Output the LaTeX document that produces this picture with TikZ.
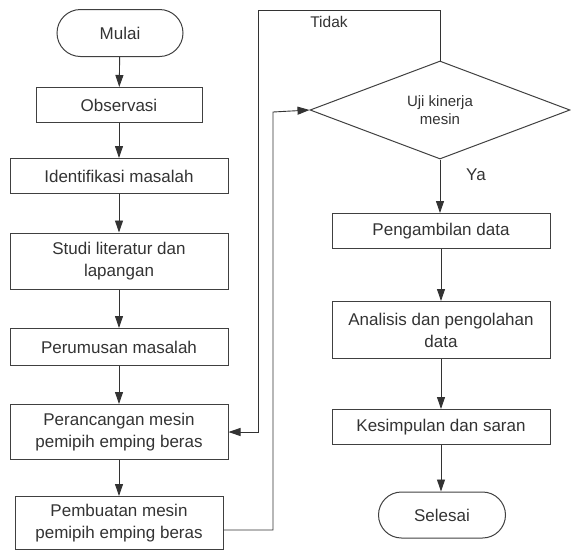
\documentclass[tikz,border=0pt]{standalone}
\usepackage{fontspec}
\setmainfont{Liberation Sans}
\usetikzlibrary{positioning,arrows.meta,shapes.geometric,shapes.misc}
\tikzset{
  box/.style={draw=black!75, line width=1pt, align=center, inner sep=2pt, text=black!80},
  term/.style={box, rounded rectangle},
  flow/.style={-{Triangle[length=12pt,width=8pt]}, line width=0.9pt, draw=black!80}
}
\begin{document}
\begin{tikzpicture}[x=1pt, y=-1pt, font=\fontsize{17}{22}\selectfont]
        \useasboundingbox (0,0) rectangle (571,550);
        \node[term, minimum width=130pt, minimum height=47pt] (mulai) at (120,33) {Mulai};
        \foreach \nm/\y/\w/\h/\txt in {obs/105/166/35/Observasi, idf/176/218/35/Identifikasi masalah, studi/261/218/56/{Studi literatur dan\\lapangan}, rumus/347/218/37/Perumusan masalah, rancang/432/218/55/{Perancangan mesin\\pemipih emping beras}, buat/523/208/53/{Pembuatan mesin\\pemipih emping beras}}{\node[box, minimum width=\w pt, minimum height=\h pt] (\nm) at (119,\y) {\txt};}
        \node[box, diamond, aspect=2.65, inner sep=0pt, minimum width=260pt, minimum height=98pt, font=\fontsize{15}{18}\selectfont] (uji) at (440,110) {Uji kinerja\\mesin};
        \foreach \nm/\y/\h/\txt in {ambil/231/35/Pengambilan data, analisis/330/57/{Analisis dan pengolahan\\data}, simpul/427/35/Kesimpulan dan saran}{\node[box, minimum width=218pt, minimum height=\h pt] (\nm) at (441,\y) {\txt};}
        \node[term, minimum width=131pt, minimum height=46pt] (selesai) at (442,515) {Selesai};
        \coordinate (tidak) at (258,10);
        \coordinate (balik) at (273,112);
        \draw[flow] (mulai) -- (obs);
        \draw[flow] (obs) -- (idf);
        \draw[flow] (idf) -- (studi);
        \draw[flow] (studi) -- (rumus);
        \draw[flow] (rumus) -- (rancang);
        \draw[flow] (rancang.south) -- (rancang.south |- buat.north);
        \draw[flow] ([yshift=-7pt]buat.east) -| (balik) -- (uji.west);
        \draw[flow] (uji.north) |- (tidak) |- (rancang.east);
        \draw[flow] (uji.south) -- (uji.south |- ambil.north);
        \draw[flow] (ambil) -- (analisis);
        \draw[flow] (analisis) -- (simpul);
        \draw[flow] (simpul.south) -- (simpul.south |- selesai.north);
        \node[text=black!80, font=\fontsize{15.5}{18}\selectfont] (ltidak) at (329,22) {Tidak};
        \node[text=black!80] (lya) at (476,175) {Ya};
\end{tikzpicture}
\end{document}
